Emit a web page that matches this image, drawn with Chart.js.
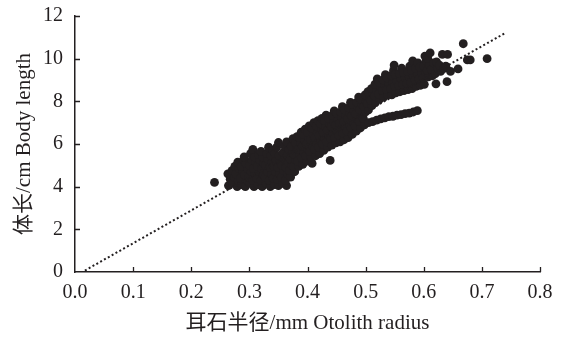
<!DOCTYPE html>
<html>
<head>
<meta charset="utf-8">
<script src="https://cdn.jsdelivr.net/npm/chart.js"></script>
<style>
  html, body { margin: 0; padding: 0; background: #ffffff; }
  #wrap { width: 566px; height: 337px; }
</style>
</head>
<body>
<div id="wrap"><canvas id="chart" width="566" height="337"></canvas></div>
<script>
// otolith radius (mm) vs body length (cm)
const samples = [
  [0.240, 4.2],
  [0.264, 4.05], [0.267, 4.35], [0.263, 4.6],
  [0.271, 4.15], [0.274, 4.45], [0.270, 4.75], [0.275, 4.95],
  [0.279, 4.0], [0.281, 4.3], [0.277, 4.6], [0.282, 4.85], [0.280, 5.15],
  [0.287, 4.1], [0.285, 4.4], [0.289, 4.7], [0.286, 4.95], [0.290, 5.25],
  [0.293, 4.0], [0.296, 4.3], [0.292, 4.55], [0.297, 4.85], [0.294, 5.1], [0.291, 5.4],
  [0.301, 4.15], [0.299, 4.45], [0.303, 4.7], [0.300, 5.0], [0.304, 5.25], [0.302, 5.55],
  [0.308, 4.0], [0.306, 4.3], [0.310, 4.6], [0.307, 4.85], [0.311, 5.15], [0.309, 5.4], [0.306, 5.75],
  [0.315, 4.1], [0.313, 4.4], [0.317, 4.7], [0.314, 4.95], [0.318, 5.25], [0.316, 5.5],
  [0.322, 4.0], [0.320, 4.3], [0.324, 4.55], [0.321, 4.85], [0.325, 5.1], [0.323, 5.4], [0.320, 5.65],
  [0.329, 4.15], [0.327, 4.45], [0.331, 4.7], [0.328, 5.0], [0.332, 5.3], [0.330, 5.55], [0.333, 5.85],
  [0.336, 4.0], [0.334, 4.3], [0.338, 4.6], [0.335, 4.9], [0.339, 5.15], [0.337, 5.45], [0.340, 5.7],
  [0.343, 4.1], [0.341, 4.4], [0.345, 4.7], [0.342, 4.95], [0.346, 5.25], [0.344, 5.55], [0.347, 5.85],
  [0.350, 4.05], [0.348, 4.35], [0.352, 4.6], [0.349, 4.9], [0.353, 5.2], [0.351, 5.45], [0.350, 6.07],
  [0.357, 4.15], [0.355, 4.45], [0.359, 4.75], [0.356, 5.0], [0.360, 5.3], [0.358, 5.6], [0.361, 5.9],
  [0.364, 4.05], [0.362, 4.3], [0.366, 4.6], [0.363, 4.9], [0.367, 5.15], [0.365, 5.45], [0.368, 5.75], [0.364, 6.1],
  [0.371, 4.45], [0.369, 4.75], [0.373, 5.0], [0.370, 5.3], [0.374, 5.6], [0.372, 5.9], [0.375, 6.25],
  [0.378, 4.7], [0.376, 4.95], [0.380, 5.25], [0.377, 5.5], [0.381, 5.8], [0.379, 6.05], [0.382, 6.35],
  [0.385, 4.95], [0.383, 5.2], [0.387, 5.5], [0.384, 5.75], [0.388, 6.05], [0.386, 6.3], [0.389, 6.55],
  [0.392, 5.05], [0.390, 5.35], [0.394, 5.6], [0.391, 5.9], [0.395, 6.2], [0.393, 6.45], [0.396, 6.7],
  [0.399, 5.2], [0.397, 5.45], [0.401, 5.75], [0.398, 6.0], [0.402, 6.3], [0.400, 6.55], [0.403, 6.85],
  [0.408, 5.09], [0.406, 5.4], [0.404, 5.65], [0.409, 5.9], [0.405, 6.2], [0.410, 6.45], [0.407, 6.75], [0.411, 7.0],
  [0.414, 5.45], [0.412, 5.75], [0.416, 6.0], [0.413, 6.3], [0.417, 6.55], [0.415, 6.85], [0.418, 7.1],
  [0.421, 5.55], [0.419, 5.85], [0.423, 6.15], [0.420, 6.4], [0.424, 6.7], [0.422, 6.95], [0.425, 7.2],
  [0.428, 5.7], [0.426, 6.0], [0.430, 6.25], [0.427, 6.55], [0.431, 6.8], [0.429, 7.1], [0.432, 7.35],
  [0.435, 5.85], [0.433, 6.1], [0.437, 6.4], [0.434, 6.65], [0.438, 6.95], [0.436, 7.2],
  [0.439, 5.23],
  [0.442, 5.95], [0.440, 6.25], [0.444, 6.5], [0.441, 6.8], [0.445, 7.05], [0.443, 7.35], [0.446, 7.55],
  [0.449, 6.05], [0.447, 6.3], [0.451, 6.6], [0.448, 6.9], [0.452, 7.15], [0.450, 7.45],
  [0.456, 6.1], [0.454, 6.4], [0.458, 6.7], [0.455, 6.95], [0.459, 7.25], [0.457, 7.5], [0.460, 7.75],
  [0.463, 6.2], [0.461, 6.5], [0.465, 6.8], [0.462, 7.05], [0.466, 7.35], [0.464, 7.6],
  [0.470, 6.3], [0.468, 6.6], [0.472, 6.9], [0.469, 7.15], [0.473, 7.45], [0.471, 7.7], [0.474, 7.95],
  [0.477, 6.45], [0.475, 6.75], [0.479, 7.0], [0.476, 7.3], [0.480, 7.55], [0.478, 7.85],
  [0.484, 6.6], [0.482, 6.85], [0.486, 7.15], [0.483, 7.4], [0.487, 7.7], [0.485, 7.95], [0.488, 8.2],
  [0.491, 6.75], [0.489, 7.05], [0.493, 7.3], [0.490, 7.6], [0.494, 7.85], [0.492, 8.1],
  [0.498, 6.9], [0.496, 7.2], [0.500, 7.5], [0.497, 7.75], [0.501, 8.0], [0.499, 8.3],
  // lower arm
  [0.505, 7.0], [0.512, 7.05], [0.519, 7.12], [0.526, 7.18], [0.533, 7.22], [0.540, 7.28], [0.547, 7.3],
  [0.554, 7.35], [0.561, 7.38], [0.568, 7.42], [0.575, 7.45], [0.582, 7.5], [0.589, 7.56],
  // upper band
  [0.505, 7.6], [0.503, 7.9], [0.507, 8.15], [0.504, 8.45],
  [0.511, 7.8], [0.509, 8.05], [0.513, 8.35], [0.510, 8.6],
  [0.517, 7.95], [0.515, 8.25], [0.519, 8.5], [0.516, 8.8], [0.520, 9.05],
  [0.524, 8.1], [0.522, 8.35], [0.526, 8.65], [0.523, 8.9],
  [0.531, 8.2], [0.529, 8.5], [0.533, 8.75], [0.530, 9.0], [0.534, 9.25],
  [0.538, 8.3], [0.536, 8.55], [0.540, 8.85], [0.537, 9.1],
  [0.545, 8.3], [0.543, 8.6], [0.547, 8.9], [0.544, 9.2], [0.548, 9.45],
  [0.552, 8.4], [0.550, 8.7], [0.554, 8.95], [0.551, 9.25], [0.549, 9.7],
  [0.559, 8.45], [0.557, 8.75], [0.561, 9.05], [0.558, 9.3], [0.562, 9.55],
  [0.566, 8.5], [0.564, 8.8], [0.568, 9.1], [0.565, 9.35],
  [0.573, 8.55], [0.571, 8.85], [0.575, 9.15], [0.572, 9.4], [0.576, 9.65],
  [0.580, 8.6], [0.578, 8.9], [0.582, 9.2], [0.579, 9.45], [0.581, 9.9],
  [0.587, 8.7], [0.585, 9.0], [0.589, 9.3], [0.586, 9.55], [0.590, 9.8],
  [0.594, 8.75], [0.592, 9.05], [0.596, 9.35], [0.593, 9.6],
  [0.601, 8.8], [0.599, 9.1], [0.603, 9.4], [0.600, 9.65], [0.604, 9.9], [0.602, 10.12],
  [0.608, 9.15], [0.606, 9.45], [0.610, 9.7], [0.607, 10.0], [0.611, 10.27],
  [0.615, 9.2], [0.613, 9.5], [0.617, 9.8],
  [0.621, 8.82], [0.620, 9.3], [0.624, 9.55], [0.622, 9.85],
  [0.629, 9.4], [0.627, 9.7],
  [0.632, 10.2], [0.635, 9.55],
  [0.640, 8.92], [0.638, 9.65], [0.641, 10.2],
  [0.646, 9.4],
  [0.659, 9.52], [0.668, 10.7], [0.675, 9.94], [0.680, 9.94], [0.709, 10.0]
];

// dotted reference line, end points
const lineX = [0.017, 0.74];
const lineY = [0.07, 11.2];

const xTickValues = [0, 0.1, 0.2, 0.3, 0.4, 0.5, 0.6, 0.7, 0.8];
const yTickValues = [0, 2, 4, 6, 8, 10, 12];

const xTitle = '耳石半径/mm Otolith radius';
const yTitle = '体长/cm Body length';

const ink = '#231f20';
const fontFamily = "'Liberation Serif', 'Noto Sans CJK SC', serif";

// ticks in this figure point into the plot area
const innerTicks = {
    id: 'innerTicks',
    afterDraw(chart) {
        const { ctx, chartArea, scales } = chart;
        ctx.save();
        ctx.strokeStyle = ink;
        ctx.lineWidth = 1.3;
        ctx.beginPath();
        xTickValues.slice(1).forEach(v => {
            const px = Math.round(scales.x.getPixelForValue(v)) + 0.5;
            ctx.moveTo(px, chartArea.bottom);
            ctx.lineTo(px, chartArea.bottom - 5);
        });
        yTickValues.slice(1).forEach(v => {
            const py = Math.round(scales.y.getPixelForValue(v)) + 0.5;
            ctx.moveTo(chartArea.left, py);
            ctx.lineTo(chartArea.left + 5, py);
        });
        ctx.stroke();
        ctx.restore();
    }
};

new Chart(document.getElementById('chart'), {
    type: 'scatter',
    data: {
        datasets: [
            {
                data: lineX.map((x, i) => ({ x, y: lineY[i] })),
                showLine: true,
                borderColor: ink,
                borderWidth: 2,
                borderDash: [2, 2.4],
                pointRadius: 0
            },
            {
                data: samples.map(([x, y]) => ({ x, y })),
                backgroundColor: ink,
                borderColor: ink,
                borderWidth: 0,
                pointRadius: 4.4
            }
        ]
    },
    options: {
        responsive: false,
        animation: false,
        devicePixelRatio: 1,
        layout: { padding: { top: 15, right: 26, left: 0, bottom: 0 } },
        plugins: { legend: { display: false }, tooltip: { enabled: false } },
        scales: {
            x: {
                type: 'linear',
                min: 0,
                max: 0.8,
                afterFit: s => { s.height = 65; },
                afterBuildTicks: s => { s.ticks = xTickValues.map(v => ({ value: v })); },
                grid: { display: false },
                border: { display: true, color: ink, width: 1.5 },
                ticks: {
                    color: ink,
                    padding: 1,
                    maxRotation: 0,
                    font: { family: fontFamily, size: 20 },
                    callback: v => v.toFixed(1)
                },
                title: {
                    display: true,
                    text: xTitle,
                    color: ink,
                    padding: { top: 0, bottom: 1 },
                    font: { family: fontFamily, size: 21 }
                }
            },
            y: {
                type: 'linear',
                min: 0,
                max: 12,
                afterFit: s => { s.width = 75; },
                afterBuildTicks: s => { s.ticks = yTickValues.map(v => ({ value: v })); },
                grid: { display: false },
                border: { display: true, color: ink, width: 1.5 },
                ticks: {
                    color: ink,
                    padding: 4,
                    font: { family: fontFamily, size: 20 }
                },
                title: {
                    display: true,
                    text: yTitle,
                    color: ink,
                    padding: { top: 12, bottom: 0 },
                    font: { family: fontFamily, size: 21 }
                }
            }
        }
    },
    plugins: [innerTicks]
});
</script>
</body>
</html>
